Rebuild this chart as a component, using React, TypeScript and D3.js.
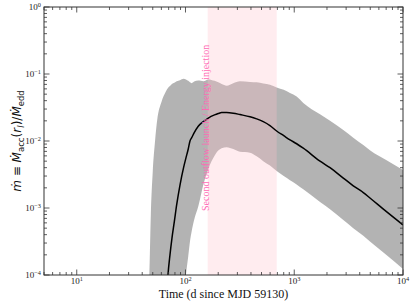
import React from 'react';
import * as d3 from 'd3';

// days since MJD 59130
const times = [40, 44, 46.5, 48, 50, 52.5, 55, 60, 66, 69, 72, 75, 79, 83, 89, 96, 101, 106, 110, 114,
  120, 131, 146, 162, 185, 200, 215, 239, 275, 317, 392, 451, 519, 598, 689, 800, 914, 1052, 1211,
  1726, 2133, 2825, 3490, 4315, 5000, 7000, 10000];

// median accretion rate in Eddington units
const mdotMedian = [1e-9, 1e-8, 3.2e-8, 6.3e-8, 1.3e-7, 3.2e-7, 7.9e-7, 4e-6, 3.2e-5, 1e-4,
  2e-4, 3.5e-4, 6.3e-4, 1.12e-3, 2.2e-3, 4e-3, 5.6e-3, 7.6e-3, 1e-2, 1.12e-2,
  1.32e-2, 1.66e-2, 1.95e-2, 2.2e-2, 2.45e-2, 2.57e-2, 2.66e-2, 2.66e-2, 2.6e-2, 2.48e-2,
  2.3e-2, 2.14e-2, 1.95e-2, 1.7e-2, 1.41e-2, 1.2e-2, 1.04e-2, 9.1e-3, 7.8e-3, 5.0e-3,
  4.0e-3, 2.8e-3, 2.14e-3, 1.7e-3, 1.4e-3, 8.9e-4, 5.6e-4];

// upper / lower edges of the uncertainty band
const mdotUpper = [1e-6, 1e-5, 1e-4, 7.9e-4, 3.5e-3, 1e-2, 2.1e-2, 3.8e-2, 5.5e-2, 6.2e-2,
  6.6e-2, 7.1e-2, 7.4e-2, 7.8e-2, 8.1e-2, 8.5e-2, 8.3e-2, 7.9e-2, 7.5e-2, 7.3e-2,
  7.7e-2, 8.0e-2, 7.8e-2, 8.3e-2, 7.9e-2, 7.5e-2, 7.1e-2, 6.7e-2, 7.3e-2, 7.8e-2,
  7.6e-2, 7.5e-2, 7.2e-2, 6.9e-2, 6.3e-2, 5.8e-2, 5.2e-2, 4.6e-2, 3.7e-2, 2.5e-2,
  2.0e-2, 1.46e-2, 1.12e-2, 8.7e-3, 7.2e-3, 5.2e-3, 3.7e-3];

const mdotLower = [1e-12, 1e-11, 3.2e-11, 6.3e-11, 1e-10, 2.5e-10, 6.3e-10, 3.2e-9, 1.6e-8, 4e-8,
  1e-7, 2.5e-7, 6.3e-7, 2.5e-6, 1e-5, 4e-5, 1e-4, 1.9e-4, 3.2e-4, 4.5e-4,
  6.6e-4, 1.05e-3, 2.24e-3, 3.8e-3, 6.0e-3, 7.2e-3, 7.8e-3, 8.1e-3, 7.6e-3, 6.9e-3,
  6.7e-3, 5.9e-3, 5.0e-3, 4.3e-3, 3.56e-3, 3.0e-3, 2.6e-3, 2.25e-3, 1.9e-3, 1.23e-3,
  9.6e-4, 6.6e-4, 5.0e-4, 3.84e-4, 3.14e-4, 2.0e-4, 1.23e-4];

const injectionWindow = [160, 690];
const injectionLabel = 'Second outflow launch / Energy injection';

const xMajor = [10, 100, 1000, 10000];
const xMajorExp = ['1', '2', '3', '4'];
const yMajor = [1e-4, 1e-3, 1e-2, 1e-1, 1];
const yMajorExp = ['\u22124', '\u22123', '\u22122', '\u22121', '0'];

const W = 415, H = 305;
const margin = { top: 7, right: 12, bottom: 30, left: 44 };
const serif = "'Liberation Serif', 'DejaVu Serif', 'Times New Roman', serif";
const mathFont = "'DejaVu Sans', sans-serif";

export default function App() {
  const x = d3.scaleLog().domain([5, 1e4]).range([margin.left, W - margin.right]);
  const y = d3.scaleLog().domain([1e-4, 1]).range([H - margin.bottom, margin.top]);
  const [x0, x1] = x.range();
  const [yb, yt] = y.range();

  const rows = times.map((t, i) => ({ t, m: mdotMedian[i], hi: mdotUpper[i], lo: mdotLower[i] }));

  const band = d3.area<any>()
    .x(d => x(d.t))
    .y0(d => y(d.lo))
    .y1(d => y(d.hi))
    .curve(d3.curveMonotoneX);
  const line = d3.line<any>()
    .x(d => x(d.t))
    .y(d => y(d.m))
    .curve(d3.curveMonotoneX);

  const isMajor = (v: number) => Math.abs(Math.log10(v) - Math.round(Math.log10(v))) < 1e-9;
  const xMinor = x.ticks().filter(v => !isMajor(v));
  const yMinor = y.ticks().filter(v => !isMajor(v));

  const axisCol = '#333';
  const major = 5.5, minor = 3;

  return (
    <svg width={W} height={H} style={{ position: 'absolute', left: 0, top: 0, background: '#fff' }}>
      <defs>
        <clipPath id="plotArea">
          <rect x={x0} y={yt} width={x1 - x0} height={yb - yt} />
        </clipPath>
      </defs>
      <g clipPath="url(#plotArea)">
        <path d={band(rows) || ''} fill="gray" fillOpacity={0.6} stroke="none" />
        <rect x={x(injectionWindow[0])} y={yt} width={x(injectionWindow[1]) - x(injectionWindow[0])}
          height={yb - yt} fill="pink" fillOpacity={0.3} />
        <path d={line(rows) || ''} fill="none" stroke="#000" strokeWidth={1.5} />
      </g>
      <text transform={`translate(${x(injectionWindow[0]) + 1.5},${y(1e-3) + 3}) rotate(-90)`}
        style={{ fontFamily: serif, fontSize: 10 }} fill="hotpink">{injectionLabel}</text>

      {/* frame */}
      <rect x={x0} y={yt} width={x1 - x0} height={yb - yt} fill="none" stroke={axisCol} strokeWidth={1} />

      {/* ticks on all four sides, pointing in */}
      <g stroke={axisCol} strokeWidth={0.8}>
        {xMajor.map(v => (
          <g key={'xm' + v}>
            <line x1={x(v)} x2={x(v)} y1={yb} y2={yb - major} />
            <line x1={x(v)} x2={x(v)} y1={yt} y2={yt + major} />
          </g>
        ))}
        {xMinor.map(v => (
          <g key={'xn' + v}>
            <line x1={x(v)} x2={x(v)} y1={yb} y2={yb - minor} />
            <line x1={x(v)} x2={x(v)} y1={yt} y2={yt + minor} />
          </g>
        ))}
        {yMajor.map(v => (
          <g key={'ym' + v}>
            <line x1={x0} x2={x0 + major} y1={y(v)} y2={y(v)} />
            <line x1={x1} x2={x1 - major} y1={y(v)} y2={y(v)} />
          </g>
        ))}
        {yMinor.map(v => (
          <g key={'yn' + v}>
            <line x1={x0} x2={x0 + minor} y1={y(v)} y2={y(v)} />
            <line x1={x1} x2={x1 - minor} y1={y(v)} y2={y(v)} />
          </g>
        ))}
      </g>

      {/* tick labels */}
      <g style={{ fontFamily: serif, fontSize: 9 }} fill="#222">
        {xMajor.map((v, i) => (
          <text key={'xl' + v} x={x(v)} y={yb + 9} textAnchor="middle">
            10<tspan style={{ fontSize: 6.3 }} dy={-3.5}>{xMajorExp[i]}</tspan>
          </text>
        ))}
        {yMajor.map((v, i) => (
          <text key={'yl' + v} x={x0 - 3} y={y(v) + 3} textAnchor="end">
            10<tspan style={{ fontSize: 6.3 }} dy={-3.5}>{yMajorExp[i]}</tspan>
          </text>
        ))}
      </g>

      <text x={(x0 + x1) / 2} y={H - 7} textAnchor="middle" style={{ fontFamily: serif, fontSize: 12 }} fill="#111">
        Time (d since MJD 59130)
      </text>

      <text transform={`translate(21,${(yb + yt) / 2}) rotate(-90)`} textAnchor="middle"
        style={{ fontFamily: mathFont, fontSize: 12 }} fill="#111">
        <tspan fontStyle="italic">ṁ</tspan>
        <tspan> ≡ </tspan>
        <tspan fontStyle="italic">Ṁ</tspan>
        <tspan style={{ fontSize: 8.5 }} dy={3}>acc</tspan>
        <tspan dy={-3}>(</tspan>
        <tspan fontStyle="italic">r</tspan>
        <tspan fontStyle="italic" style={{ fontSize: 8.5 }} dy={3}>I</tspan>
        <tspan dy={-3}>)/</tspan>
        <tspan fontStyle="italic">Ṁ</tspan>
        <tspan style={{ fontSize: 8.5 }} dy={3}>edd</tspan>
      </text>
    </svg>
  );
}
